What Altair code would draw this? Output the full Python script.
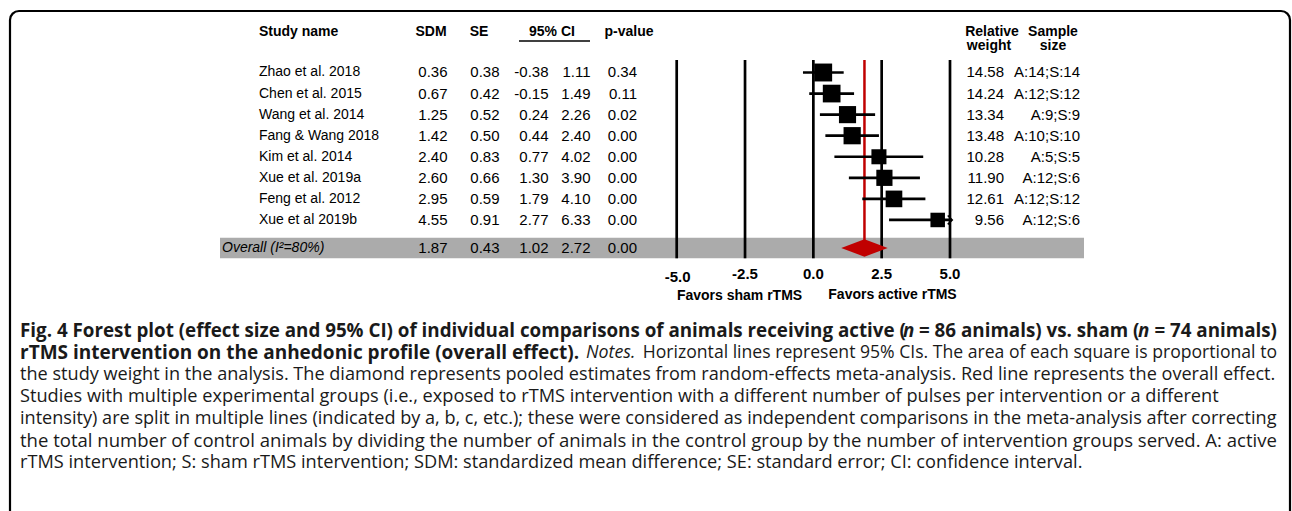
import altair as alt
import pandas as pd
import numpy as np

# ---------------- data ----------------
studies = ["Zhao et al. 2018", "Chen et al. 2015", "Wang et al. 2014", "Fang & Wang 2018",
           "Kim et al. 2014", "Xue et al. 2019a", "Feng et al. 2012", "Xue et al 2019b"]
sdm = [0.36, 0.67, 1.25, 1.42, 2.40, 2.60, 2.95, 4.55]
se = [0.38, 0.42, 0.52, 0.50, 0.83, 0.66, 0.59, 0.91]
ci_lo = [-0.38, -0.15, 0.24, 0.44, 0.77, 1.30, 1.79, 2.77]
ci_hi = [1.11, 1.49, 2.26, 2.40, 4.02, 3.90, 4.10, 6.33]
pval = [0.34, 0.11, 0.02, 0.00, 0.00, 0.00, 0.00, 0.00]
weights = [14.58, 14.24, 13.34, 13.48, 10.28, 11.90, 12.61, 9.56]
samples = ["A:14;S:14", "A:12;S:12", "A:9;S:9", "A:10;S:10", "A:5;S:5", "A:12;S:6", "A:12;S:12", "A:12;S:6"]

overall_label = "Overall (I\u00b2=80%)"
overall_sdm = 1.87
overall_se = 0.43
overall_lo = 1.02
overall_hi = 2.72
overall_p = 0.00

ticks = [-5.0, -2.5, 0.0, 2.5, 5.0]
AXIS_MAX = 5.0

line1_parts = ["Fig. 4 Forest plot (effect size and 95% CI) of individual comparisons of animals receiving active (",
               "n", "= 86 animals) vs. sham (", "n", "= 74 animals)"]
line2_bold = "rTMS intervention on the anhedonic profile (overall effect)."
line2_notes = "Notes."
line2_rest = "Horizontal lines represent 95% CIs. The area of each square is proportional to"
caption_lines = [
    "the study weight in the analysis. The diamond represents pooled estimates from random-effects meta-analysis. Red line represents the overall effect.",
    "Studies with multiple experimental groups (i.e., exposed to rTMS intervention with a different number of pulses per intervention or a different",
    "intensity) are split in multiple lines (indicated by a, b, c, etc.); these were considered as independent comparisons in the meta-analysis after correcting",
    "the total number of control animals by dividing the number of animals in the control group by the number of intervention groups served. A: active",
    "rTMS intervention; S: sham rTMS intervention; SDM: standardized mean difference; SE: standard error; CI: confidence interval.",
]

# ---------------- tables ----------------
df = pd.DataFrame({"study": studies, "sdm": sdm, "se": se, "lo": ci_lo, "hi": ci_hi,
                   "p": pval, "w": weights, "n": samples})
df["row"] = np.arange(1, len(df) + 1).astype(float)
df["hi_clip"] = np.minimum(df["hi"], AXIS_MAX)

OV_ROW = 9.33
ov = pd.DataFrame({"label": [overall_label], "sdm": [overall_sdm], "se": [overall_se],
                   "lo": [overall_lo], "hi": [overall_hi], "p": [overall_p], "row": [OV_ROW]})
allrows = pd.concat([df[["sdm", "se", "lo", "hi", "p", "row"]], ov[["sdm", "se", "lo", "hi", "p", "row"]]])

DH = 0.415
diamond = pd.DataFrame({"x": [overall_lo, overall_sdm, overall_hi],
                        "top": [OV_ROW, OV_ROW - DH, OV_ROW],
                        "bot": [OV_ROW, OV_ROW + DH, OV_ROW]})
tick_df = pd.DataFrame({"v": ticks})
one = pd.DataFrame({"a": [0]})

XS = alt.Scale(domain=[-5, 5], range=[676.7, 950.0], nice=False, zero=False)
YS = alt.Scale(domain=[0, 10], range=[51.43, 262.1], nice=False, zero=False)


def X(f):
    return alt.X(f, type="quantitative", scale=XS, axis=None)


def Y(f):
    return alt.Y(f, type="quantitative", scale=YS, axis=None)


ARIAL = "Liberation Sans"
CAP = "Open Sans"
RED = "#c00000"
layers = []

# border
layers.append(alt.Chart(one).mark_rect(fill=None, stroke="black", strokeWidth=2.2, cornerRadius=9).encode(
    x=alt.value(10), x2=alt.value(1290), y=alt.value(11), y2=alt.value(540)))

# gray band
layers.append(alt.Chart(one).mark_rect(color="#ababab").encode(
    x=alt.value(220), x2=alt.value(1084), y=alt.value(237.7), y2=alt.value(258.3)))

# vertical reference lines
layers.append(alt.Chart(tick_df).mark_rule(color="black", strokeWidth=2.7).encode(
    x=X("v"), y=alt.value(60), y2=alt.value(258.3)))

# red overall line
layers.append(alt.Chart(ov).mark_rule(color=RED, strokeWidth=2.5).encode(
    x=X("sdm"), y=alt.value(60), y2=alt.value(248)))

# CI lines
layers.append(alt.Chart(df).mark_rule(color="black", strokeWidth=2.7).encode(
    x=X("lo"), x2="hi_clip", y=Y("row")))

# arrow for clipped CI
layers.append(alt.Chart(df).transform_filter(f"datum.hi > {AXIS_MAX}").mark_point(
    shape="M-0.5,-1L0.5,0L-0.5,1", filled=False, stroke="black", strokeWidth=1.6, size=80, opacity=1, dx=-2).encode(
    x=X("hi_clip"), y=Y("row")))

# squares
layers.append(alt.Chart(df).mark_point(shape="square", filled=True, color="black", opacity=1).encode(
    x=X("sdm"), y=Y("row"),
    size=alt.Size("w:Q", scale=alt.Scale(domain=[0, 15], range=[0, 330]), legend=None)))

# diamond
layers.append(alt.Chart(diamond).mark_area(color=RED, opacity=1).encode(
    x=X("x"), y=Y("top"), y2="bot"))


# ---- table text ----
def txt(data, field, xpx, align="right", fmt=None, size=15, style="normal", weight="normal"):
    ch = alt.Chart(data)
    if fmt:
        ch = ch.transform_calculate(lab=f"replace(format(datum['{field}'], '{fmt}'), '\u2212', '-')")
        t = alt.Text("lab:N")
    else:
        t = alt.Text(field, type="nominal")
    return ch.mark_text(align=align, baseline="middle", font=ARIAL, fontSize=size,
                        fontStyle=style, fontWeight=weight, color="black").encode(
        x=alt.value(xpx), y=Y("row"), text=t)


layers.append(txt(df, "study", 259, align="left", size=14))
layers.append(txt(ov, "label", 222, align="left", size=14, style="italic"))
layers.append(txt(allrows, "sdm", 447.5, fmt=".2f"))
layers.append(txt(allrows, "se", 499.5, fmt=".2f"))
layers.append(txt(allrows, "lo", 548.5, fmt=".2f"))
layers.append(txt(allrows, "hi", 590.5, fmt=".2f"))
layers.append(txt(allrows, "p", 637, fmt=".2f"))
layers.append(txt(df, "w", 1004, fmt=".2f"))
layers.append(txt(df, "n", 1080))


def label(text, xpx, ypx, align="center", size=14, weight="bold", style="normal", font=ARIAL, color="black"):
    return alt.Chart(one).mark_text(text=text, align=align, baseline="middle", font=font, fontSize=size,
                                    fontWeight=weight, fontStyle=style, color=color).encode(
        x=alt.value(xpx), y=alt.value(ypx))


# headers
layers.append(label("Study name", 259, 32, align="left"))
layers.append(label("SDM", 431, 32))
layers.append(label("SE", 479, 32))
layers.append(label("95% CI", 552, 32))
layers.append(label("p-value", 629, 32))
layers.append(label("Relative", 992, 32))
layers.append(label("weight", 989, 46))
layers.append(label("Sample", 1053, 32))
layers.append(label("size", 1053, 46))
layers.append(alt.Chart(one).mark_rule(color="black", strokeWidth=1.3).encode(
    x=alt.value(519), x2=alt.value(590), y=alt.value(41)))

# tick labels
tick_lab = "replace(format(datum.v, '.1f'), '\u2212', '-')"
layers.append(alt.Chart(tick_df).transform_filter("datum.v != -5").transform_calculate(lab=tick_lab).mark_text(
    baseline="middle", font=ARIAL, fontSize=15, fontWeight="bold", color="black").encode(
    x=X("v"), y=alt.value(273.5), text="lab:N"))
layers.append(alt.Chart(tick_df).transform_filter("datum.v == -5").transform_calculate(lab=tick_lab).mark_text(
    baseline="middle", font=ARIAL, fontSize=15, fontWeight="bold", color="black", dx=1).encode(
    x=X("v"), y=alt.value(276.5), text="lab:N"))
layers.append(label("Favors sham rTMS", 739.5, 296))
layers.append(label("Favors active rTMS", 892.5, 295))

# ---- caption ----
CC = "#1a1a1a"
CY = [331, 353, 375, 397, 419, 441, 463]
S1 = 18.8
layers.append(label(line1_parts[0], 20, CY[0], align="left", size=S1, font=CAP, color=CC))
layers.append(label(line1_parts[1], 903, CY[0], align="left", size=S1, style="italic", font=CAP, color=CC))
layers.append(label(line1_parts[2], 919, CY[0], align="left", size=S1, font=CAP, color=CC))
layers.append(label(line1_parts[3], 1138, CY[0], align="left", size=S1, style="italic", font=CAP, color=CC))
layers.append(label(line1_parts[4], 1277, CY[0], align="right", size=S1, font=CAP, color=CC))

layers.append(label(line2_bold, 20, CY[1], align="left", size=19, font=CAP, color=CC))
layers.append(label(line2_notes, 586, CY[1], align="left", size=17.8, weight="normal", style="italic", font=CAP, color=CC))
layers.append(label(line2_rest, 1277, CY[1], align="right", size=17.6, weight="normal", font=CAP, color=CC))

sizes = [18.13, 18.2, 18.1, 18.55, 18.2]
for i, line in enumerate(caption_lines):
    layers.append(label(line, 20, CY[i + 2], align="left", size=sizes[i], weight="normal", font=CAP, color=CC))

chart = alt.layer(*layers).properties(
    width=1292, height=511, autosize=alt.AutoSizeParams(type="none"), padding=0
).configure_view(stroke=None)

chart.save("out.html", embed_options={"renderer": "svg", "actions": False})
